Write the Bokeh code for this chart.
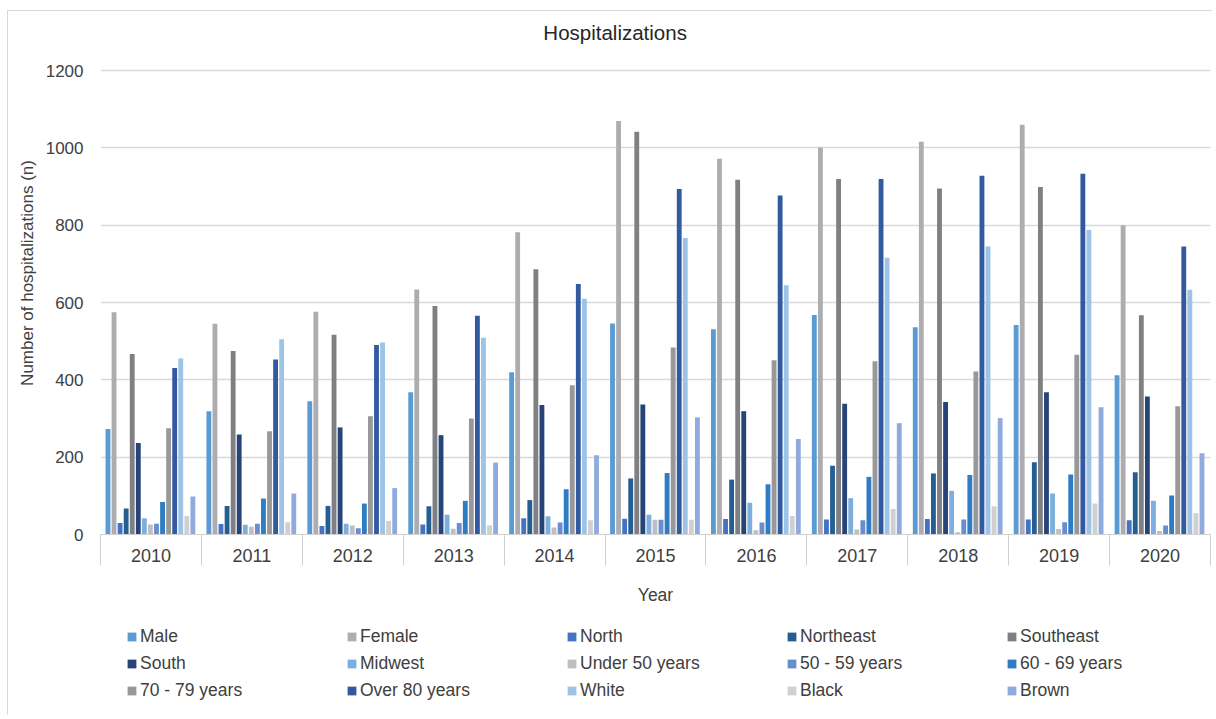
from bokeh.plotting import figure
from bokeh.layouts import column
from bokeh.models import (ColumnDataSource, Range1d, FixedTicker, Legend, LegendItem, Label)
from bokeh.transform import dodge
from bokeh.embed import file_html
from bokeh.resources import INLINE

years = ["2010", "2011", "2012", "2013", "2014", "2015", "2016", "2017", "2018", "2019", "2020"]

series_names = ["Male", "Female", "North", "Northeast", "Southeast",
                "South", "Midwest", "Under 50 years", "50 - 59 years", "60 - 69 years",
                "70 - 79 years", "Over 80 years", "White", "Black", "Brown"]

male        = [273, 319, 345, 368, 420, 546, 531, 568, 536, 542, 412]
female      = [575, 545, 576, 634, 782, 1070, 972, 1001, 1016, 1060, 800]
north       = [30, 27, 22, 26, 42, 41, 40, 39, 40, 39, 37]
northeast   = [67, 74, 74, 73, 89, 145, 142, 178, 158, 187, 161]
southeast   = [467, 475, 517, 591, 686, 1042, 918, 920, 895, 899, 567]
south       = [237, 259, 277, 257, 335, 336, 319, 338, 343, 368, 357]
midwest     = [42, 25, 28, 51, 47, 51, 82, 94, 113, 106, 87]
under50     = [26, 20, 23, 15, 18, 38, 11, 13, 6, 14, 9]
age50_59    = [28, 28, 16, 30, 31, 38, 31, 37, 39, 32, 23]
age60_69    = [84, 93, 80, 87, 117, 159, 130, 149, 154, 155, 101]
age70_79    = [275, 267, 306, 300, 386, 484, 451, 448, 422, 465, 332]
over80      = [431, 453, 490, 566, 648, 894, 877, 920, 928, 933, 745]
white       = [455, 505, 497, 509, 610, 767, 645, 716, 745, 788, 633]
black       = [48, 32, 35, 24, 37, 38, 48, 66, 73, 80, 55]
brown       = [98, 106, 120, 186, 205, 303, 247, 288, 301, 329, 210]

values = [male, female, north, northeast, southeast, south, midwest, under50,
          age50_59, age60_69, age70_79, over80, white, black, brown]

colors = ["#5B9BD5", "#ADADB1", "#4472C4", "#255E91", "#808084",
          "#264478", "#7CAFDD", "#BFBFC2", "#698ED0", "#2E7CC3",
          "#98989B", "#335AA1", "#9DC3E6", "#D0D0D2", "#8FAADC"]

yticks = [0, 200, 400, 600, 800, 1000, 1200]
title_text = "Hospitalizations"

FONT = "Liberation Sans"
TXT = "#404040"

n = len(years)
centers = [i + 0.5 for i in range(n)]          # category slot centres
data = {"year": years, "xc": centers}
keys = []
for i, v in enumerate(values):
    k = f"s{i}"
    keys.append(k)
    data[k] = v
source = ColumnDataSource(data)
offsets = [-0.426 + i * 0.0601 for i in range(len(keys))]

W = 1204
# main chart: frame extends above the 1200 gridline to leave room for the title
p = figure(x_range=Range1d(0, n), y_range=Range1d(0, 1353),
           width=W, height=607, output_backend="svg", toolbar_location=None,
           min_border_left=92, min_border_right=2, min_border_top=0, min_border_bottom=84)

for i, k in enumerate(keys):
    p.vbar(x=dodge("xc", offsets[i]), top=k, width=0.048,
           source=source, fill_color=colors[i], line_color=None)

p.xgrid.visible = False
ax = p.xaxis[0]
ax.ticker = FixedTicker(ticks=centers, minor_ticks=list(range(n + 1)))
ax.major_label_overrides = {c: y for c, y in zip(centers, years)}
ax.major_tick_line_color = None
ax.major_tick_out = 0
ax.major_tick_in = 0
ax.minor_tick_out = 31
ax.minor_tick_in = 0
ax.minor_tick_line_color = "#D0D0D0"
ax.axis_line_color = "#D0D0D0"
ax.major_label_standoff = -17
ax.major_label_text_font = FONT
ax.major_label_text_font_size = "18px"
ax.major_label_text_color = TXT
ax.axis_label = "Year"
ax.axis_label_text_font = FONT
ax.axis_label_text_font_size = "17.5px"
ax.axis_label_text_font_style = "normal"
ax.axis_label_text_color = TXT
ax.axis_label_standoff = 20

p.yaxis.ticker = FixedTicker(ticks=yticks)
p.yaxis.axis_line_color = None
p.yaxis.major_tick_line_color = None
p.yaxis.minor_tick_line_color = None
p.yaxis.major_label_standoff = 11
p.yaxis.major_label_text_font = FONT
p.yaxis.major_label_text_font_size = "17px"
p.yaxis.major_label_text_color = TXT
p.yaxis.axis_label = "Number of hospitalizations (n)"
p.yaxis.axis_label_text_font = FONT
p.yaxis.axis_label_text_font_size = "17px"
p.yaxis.axis_label_text_font_style = "normal"
p.yaxis.axis_label_text_color = TXT
p.yaxis.axis_label_standoff = 6

p.ygrid.grid_line_color = "#D9D9D9"
p.ygrid.grid_line_width = 1.5
p.outline_line_color = None

p.add_layout(Label(x=5.1, y=1298, text=title_text, text_align="center",
                   text_baseline="middle", text_font=FONT, text_font_size="20.5px",
                   text_color="#262626"))

# legend strip below the chart; its swatch renderers use the same data but
# sit outside this strip's y range, so only their legend glyphs show
L_H = 97
q = figure(width=W, height=L_H, x_range=Range1d(0, n), y_range=Range1d(5000, 5001),
           output_backend="svg", toolbar_location=None,
           min_border_left=0, min_border_right=0, min_border_top=0, min_border_bottom=0)
q.axis.visible = False
q.grid.visible = False
q.outline_line_color = None

swatches = [q.vbar(x=dodge("xc", offsets[i]), top=k, width=0.048, source=source,
                   fill_color=colors[i], line_color=None)
            for i, k in enumerate(keys)]

row_y = [68, 41, 14]
for r_i in range(3):
    items = [LegendItem(label=series_names[j], renderers=[swatches[j]])
             for j in range(r_i * 5, r_i * 5 + 5)]
    lg = Legend(items=items, orientation="horizontal", location=(26, row_y[r_i]),
                label_width=120, glyph_width=11, glyph_height=11, label_height=9,
                label_standoff=3, spacing=86, padding=0, margin=0,
                border_line_color=None, background_fill_alpha=0,
                label_text_font=FONT, label_text_font_size="17.5px",
                label_text_color=TXT)
    q.add_layout(lg, "center")

layout = column(p, q, spacing=0, margin=(10, 0, 0, 7),
                styles={"border-left": "1px solid #D9D9D9", "border-top": "1px solid #D9D9D9"})
open("out.html", "w").write(file_html(layout, INLINE))
